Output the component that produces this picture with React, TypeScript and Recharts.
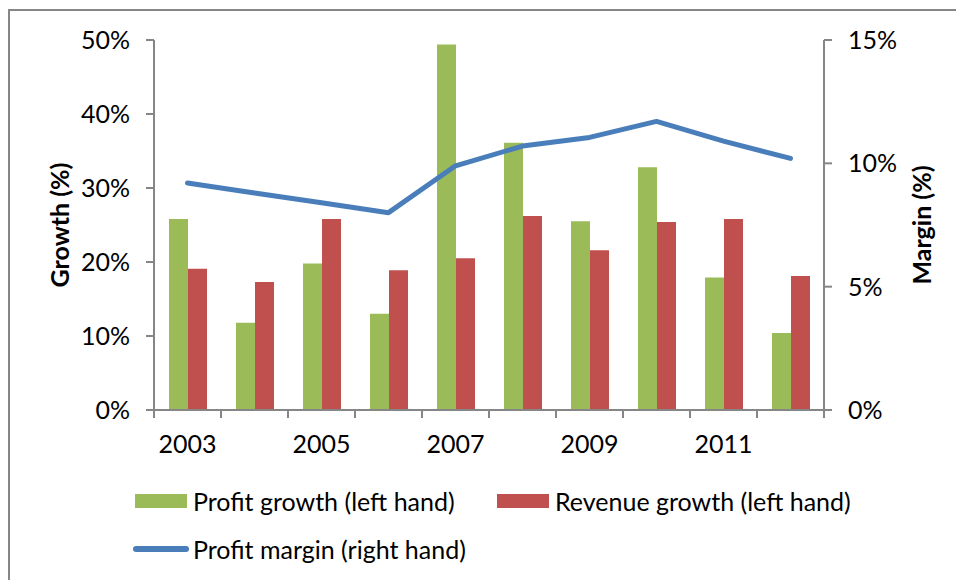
import React from 'react';
import { ComposedChart, Bar, Line, XAxis, YAxis, Legend } from 'recharts';

const years = ['2003', '2004', '2005', '2006', '2007', '2008', '2009', '2010', '2011', '2012'];
const profitGrowth = [25.8, 11.8, 19.8, 13.0, 49.4, 36.1, 25.5, 32.8, 17.9, 10.4];
const revenueGrowth = [19.1, 17.3, 25.8, 18.9, 20.5, 26.2, 21.6, 25.4, 25.8, 18.1];
const profitMargin = [9.2, 8.8, 8.4, 8.0, 9.9, 10.7, 11.05, 11.7, 10.9, 10.2];
const leftTicks = [0, 10, 20, 30, 40, 50];
const rightTicks = [0, 5, 10, 15];

const seriesNames = {
  profit: 'Profit growth (left hand)',
  revenue: 'Revenue growth (left hand)',
  margin: 'Profit margin (right hand)',
};
const legendOrder = [seriesNames.profit, seriesNames.revenue, seriesNames.margin];

const data = years.map((y, i) => ({
  year: y,
  profit: profitGrowth[i],
  revenue: revenueGrowth[i],
  margin: profitMargin[i],
}));

const FONT = 'Lato, "Open Sans", sans-serif';
const FS = 25;
const AXIS = '#868686';
const GREEN = '#9BBB59';
const RED = '#C0504D';
const BLUE = '#4A7EBB';
const TICK_SIZE = 8;
const X_TICK_MARGIN = 17;

const XTick = (props: any) => {
  const { x, y, payload, index, visibleTicksCount } = props;
  const half = payload && payload.offset ? payload.offset : 33.5;
  const axisY = y - X_TICK_MARGIN - TICK_SIZE;
  const isLast = index === (visibleTicksCount ? visibleTicksCount - 1 : years.length - 1);
  return (
    <g>
      <line x1={x - half} x2={x - half} y1={axisY} y2={axisY + TICK_SIZE} stroke={AXIS} strokeWidth={2} />
      {isLast && (
        <line x1={x + half} x2={x + half} y1={axisY} y2={axisY + TICK_SIZE} stroke={AXIS} strokeWidth={2} />
      )}
      {index % 2 === 0 && (
        <text x={x} y={y} dy="0.71em" textAnchor="middle" fill="#000" fontSize={FS} fontFamily={FONT}>
          {payload.value}
        </text>
      )}
    </g>
  );
};

const axisTitle = (text: string, dxFromBox: number) => (props: any) => {
  const vb = props.viewBox || {};
  const cx = vb.x + dxFromBox;
  const cy = vb.y + vb.height / 2;
  return (
    <text
      x={cx}
      y={cy}
      dy="0.35em"
      textAnchor="middle"
      transform={`rotate(-90 ${cx} ${cy})`}
      fontFamily={FONT}
      fontSize={FS}
      fontWeight="bold"
      fill="#000"
    >
      {text}
    </text>
  );
};

const renderLegend = (props: any) => {
  const payload = [...(props.payload || [])].sort(
    (a: any, b: any) => legendOrder.indexOf(a.value) - legendOrder.indexOf(b.value)
  );
  return (
    <div
      style={{
        width: 860,
        height: 112,
        boxSizing: 'border-box',
        paddingLeft: 135,
        paddingTop: 17,
        display: 'flex',
        flexWrap: 'wrap',
        alignContent: 'flex-start',
        fontFamily: FONT,
        fontSize: FS,
        color: '#000',
      }}
    >
      {payload.map((p: any, i: number) => {
        const isLine = p.type === 'line';
        return (
          <div
            key={i}
            style={{
              width: 362,
              height: 48,
              display: 'flex',
              alignItems: 'center',
              marginLeft: isLine ? -2 : 0,
            }}
          >
            {isLine ? (
              <div style={{ width: 56, height: 6, borderRadius: 3, background: p.color, marginRight: 4 }} />
            ) : (
              <div style={{ width: 52, height: 14, background: p.color, marginRight: 6 }} />
            )}
            <span style={{ whiteSpace: 'nowrap' }}>{p.value}</span>
          </div>
        );
      })}
    </div>
  );
};

export default function App() {
  return (
    <div style={{ position: 'absolute', left: 0, top: 0, width: 956, height: 580, overflow: 'hidden', background: '#fff' }}>
      <div
        style={{
          position: 'absolute',
          left: 8,
          top: 9,
          width: 1000,
          height: 700,
          borderLeft: `2px solid ${AXIS}`,
          borderTop: `2px solid ${AXIS}`,
        }}
      />
      <div style={{ position: 'absolute', left: 0, top: 0 }}>
        <ComposedChart
          width={956}
          height={580}
          data={data}
          margin={{ top: 40, right: 12, left: 30, bottom: 8 }}
          barGap={0}
        >
          <XAxis
            dataKey="year"
            interval={0}
            height={50}
            axisLine={{ stroke: AXIS, strokeWidth: 2 }}
            tickLine={false}
            tickSize={TICK_SIZE}
            tickMargin={X_TICK_MARGIN}
            tick={<XTick />}
          />
          <YAxis
            yAxisId="left"
            orientation="left"
            width={124}
            domain={[0, 50]}
            ticks={leftTicks}
            tickFormatter={(v: number) => `${v}%`}
            axisLine={{ stroke: AXIS, strokeWidth: 2 }}
            tickLine={{ stroke: AXIS, strokeWidth: 2 }}
            tickSize={TICK_SIZE}
            tickMargin={16}
            tick={{ fill: '#000', fontSize: FS, fontFamily: FONT }}
            label={{ content: axisTitle('Growth (%)', 30) }}
          />
          <YAxis
            yAxisId="right"
            orientation="right"
            width={120}
            domain={[0, 15]}
            ticks={rightTicks}
            tickFormatter={(v: number) => `${v}%`}
            axisLine={{ stroke: AXIS, strokeWidth: 2 }}
            tickLine={{ stroke: AXIS, strokeWidth: 2 }}
            tickSize={TICK_SIZE}
            tickMargin={16}
            tick={{ fill: '#000', fontSize: FS, fontFamily: FONT }}
            label={{ content: axisTitle('Margin (%)', 98) }}
          />
          <Legend
            verticalAlign="bottom"
            layout="horizontal"
            content={renderLegend}
            wrapperStyle={{ left: 0, width: 956, height: 112, bottom: 8 }}
          />
          <Bar yAxisId="left" dataKey="profit" name={seriesNames.profit} fill={GREEN} barSize={19} isAnimationActive={false} />
          <Bar yAxisId="left" dataKey="revenue" name={seriesNames.revenue} fill={RED} barSize={19} isAnimationActive={false} />
          <Line
            yAxisId="right"
            dataKey="margin"
            name={seriesNames.margin}
            type="linear"
            stroke={BLUE}
            strokeWidth={5}
            strokeLinecap="round"
            strokeLinejoin="round"
            dot={false}
            legendType="line"
            isAnimationActive={false}
          />
        </ComposedChart>
      </div>
    </div>
  );
}
